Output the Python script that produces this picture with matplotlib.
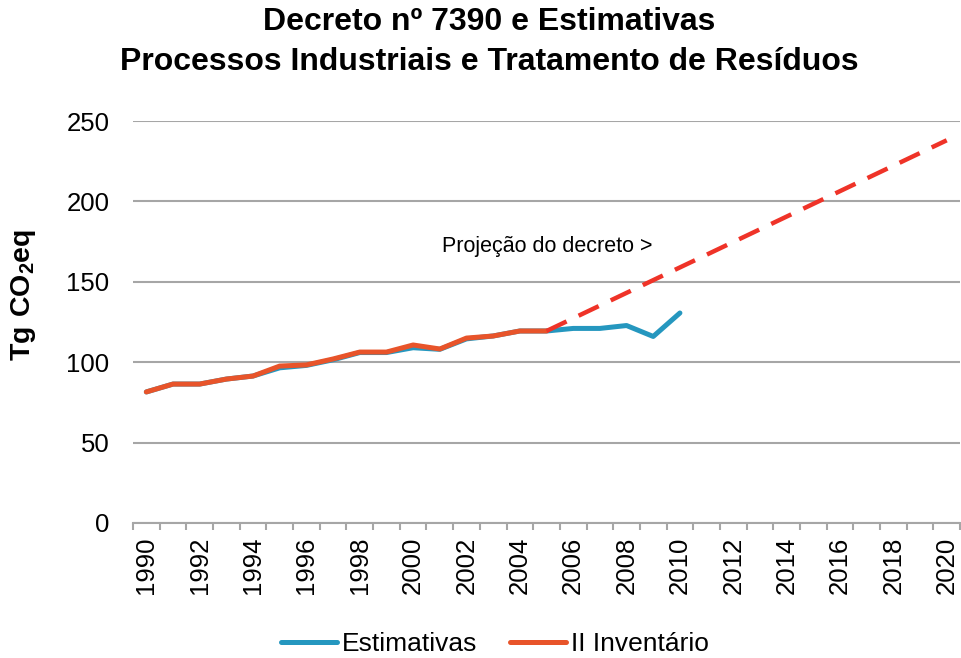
import numpy as np
import matplotlib.pyplot as plt

plt.rcParams['font.family'] = ['Liberation Sans', 'DejaVu Sans']
plt.rcParams['mathtext.fontset'] = 'custom'
plt.rcParams['mathtext.bf'] = 'Liberation Sans:bold'
plt.rcParams['mathtext.rm'] = 'Liberation Sans'

# categories
years = list(range(1990, 2021))

# series values (Tg CO2eq)
estimativas = [81.5, 86.4, 86.4, 89.5, 91.4, 96.5, 98.0, 101.5, 106.0, 106.0,
               109.0, 108.0, 114.5, 116.3, 119.4, 119.4, 121.0, 121.0, 122.8,
               116.0, 130.6]
inventario = [81.5, 86.4, 86.4, 89.5, 91.4, 97.6, 98.3, 102.0, 106.3, 106.3,
              110.7, 108.2, 115.0, 116.3, 119.4, 119.4]
proj_years = [2005, 2020]
projecao = [119.4, 238.0]

blue = '#2597BF'
orange = '#E8542A'
red = '#EF3328'
grid = '#A6A6A6'

fig = plt.figure(figsize=(9.61, 6.58), dpi=100)
ax = fig.add_axes([0.1384, 0.2052, 0.8606, 0.6109])

px = [years.index(y) for y in proj_years]

ax.plot(range(len(estimativas)), estimativas, color=blue, lw=3.6,
        solid_capstyle='round', solid_joinstyle='round', label='Estimativas', zorder=3)
ax.plot(range(len(inventario)), inventario, color=orange, lw=3.6,
        solid_capstyle='round', solid_joinstyle='round', label='II Inventário', zorder=4)
ax.plot(px, projecao, color=red, lw=3.2, dashes=(5, 3.0), zorder=5)

ax.text(11.1, 172, 'Projeção do decreto >', fontsize=15.5, color='black',
        ha='left', va='center')

ax.set_xlim(-0.5, len(years) - 0.5)
ax.set_ylim(0, 250)
ax.set_yticks(range(0, 251, 50))
ax.yaxis.grid(True, color=grid, lw=1.5)
ax.set_axisbelow(True)
ax.tick_params(axis='y', length=0, labelsize=18.5, pad=17)

ax.set_xticks(range(0, len(years), 2))
ax.set_xticklabels([str(y) for y in years[::2]], rotation=90, fontsize=18.5)
ax.set_xticks(np.arange(-0.5, len(years), 1), minor=True)
ax.tick_params(axis='x', which='major', length=0, pad=10)
ax.tick_params(axis='x', which='minor', length=5, width=1.5, color=grid)

for s in ['top', 'right', 'left']:
    ax.spines[s].set_visible(False)
ax.spines['bottom'].set_color(grid)
ax.spines['bottom'].set_linewidth(1.5)

ax.set_ylabel(r'$\mathbf{Tg\ CO_2eq}$', fontsize=20.5)
ax.yaxis.set_label_coords(-0.115, 0.567)

fig.text(0.509, 1 - 22 / 658, 'Decreto nº 7390 e Estimativas', fontsize=23,
         fontweight='bold', ha='center', va='center')
fig.text(0.509, 1 - 62 / 658, 'Processos Industriais e Tratamento de Resíduos',
         fontsize=23, fontweight='bold', ha='center', va='center')

ax.legend(loc='center', bbox_to_anchor=(0.515, 1 - 644 / 658), bbox_transform=fig.transFigure,
          frameon=False, ncol=2, fontsize=19, handlelength=2.1, handletextpad=0.2,
          columnspacing=1.25)

fig.savefig('out.png', dpi=100)
